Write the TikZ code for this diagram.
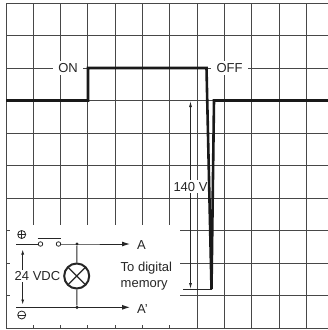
\documentclass[tikz,border=0pt]{standalone}
\usepackage{fontspec}
\setmainfont{Liberation Sans}
\usetikzlibrary{positioning,arrows.meta}

\begin{document}
\begin{tikzpicture}[x=1pt,y=-1pt,
    grid/.style={black!72,line width=0.9pt},
    trace/.style={black!90,line width=2.6pt},
    wire/.style={black!85,line width=1pt},
    lbl/.style={font=\fontsize{13}{16.6}\selectfont,text=black!85,inner sep=0pt},
    tag/.style={lbl,fill=white,inner xsep=5pt,inner ysep=2pt},
    pole/.style={circle,draw=black!85,line width=0.8pt,minimum size=8pt,inner sep=0pt},
    contact/.style={circle,draw=black!85,line width=0.8pt,fill=white,minimum size=4.5pt,inner sep=0pt},
    dot/.style={circle,fill=black!85,minimum size=3.4pt,inner sep=0pt},
    lamp/.style={circle,draw=black!85,line width=2pt,minimum size=25pt,inner sep=0pt,
      path picture={\draw[black!85,line width=1.3pt]
        (path picture bounding box.north west) -- (path picture bounding box.south east)
        (path picture bounding box.south west) -- (path picture bounding box.north east);}}]
  \useasboundingbox (0,0) rectangle (328,330);
  % grid
  \foreach \i in {0,...,11}
    \draw[grid] (6+27.3*\i,3) -- (6+27.3*\i,328);
  \foreach \j in {0,...,10}
    \draw[grid] (6,3+32.5*\j) -- (328,3+32.5*\j);
  \fill[white] (10,225) rectangle (180,325);

  \node[tag] (on) at (68,68) {ON};
  \node[tag,inner xsep=6pt] (off) at (229.5,68) {OFF};

  % 140 V
  \coordinate (vtop) at (190.5,101);
  \coordinate (vbot) at (190.5,289);
  \coordinate (vext) at (183,289);
  \coordinate (spike) at (211.5,289);
  \draw[wire,line width=0.6pt] (vext) -- (spike);
  \draw[wire,line width=0.8pt,{Latex[length=6pt,width=3pt]}-{Latex[length=6pt,width=3pt]}]
    (vtop) -- node[tag,inner xsep=1.5pt,pos=0.455] (volt) {140 V} (vbot);

  % signal
  \draw[trace] (6,100.5) -- (88,100.5) -- (88,68) -- (206.5,68) -- (spike)
    -- (214,100.5) -- (328,100.5);

  % circuit
  \node[pole,path picture={\draw[black!85,line width=0.8pt]
      (path picture bounding box.north) -- (path picture bounding box.south)
      (path picture bounding box.west) -- (path picture bounding box.east);}] (plus) at (21.7,234.5) {};
  \node[pole,path picture={\draw[black!85,line width=0.8pt]
      (path picture bounding box.west) -- (path picture bounding box.east);}] (minus) at (21.7,315) {};

  \coordinate (tl) at (16,244);
  \coordinate (bl) at (16,307.3);
  \node[contact] (c1) at (40.5,244) {};
  \node[contact] (c2) at (58.5,244) {};
  \node[dot] (j1) at (77,244) {};
  \node[dot] (j2) at (77,307.3) {};
  \node[lamp] (lamp) at (76.7,276) {};
  \coordinate (tipA) at (130,244);
  \coordinate (tipB) at (130,307.3);

  \draw[wire] (tl) -- (c1);
  \draw[wire] ([xshift=-3pt,yshift=5.7pt]c1.center) -- ([xshift=2.5pt,yshift=5.7pt]c2.center);
  \draw[wire,-{Latex[length=8pt,width=5pt]}] (c2) -- (j1.center) -- (tipA);
  \draw[wire,-{Latex[length=8pt,width=5pt]}] (bl) -- (tipB);
  \draw[wire] (j1) -- (lamp);
  \draw[wire] (lamp) -- (j2);

  \coordinate (vplus) at (22.7,249.5);
  \coordinate (vminus) at (22.7,304.5);
  \draw[wire,line width=0.8pt,{Latex[length=5pt,width=3pt]}-{Latex[length=5pt,width=3pt]}] (vplus) -- (vminus);
  \node[lbl,fill=white,inner sep=1pt] (vdc) at (37.5,276) {24 VDC};

  \node[lbl,right=7pt of tipA,yshift=-1.5pt] (A) {A};
  \node[lbl,right=7pt of tipB,yshift=-1.5pt] (A2) {A'};
  \node[lbl,align=left,anchor=west] (mem) at (120.5,276) {To digital\\memory};
\end{tikzpicture}
\end{document}
